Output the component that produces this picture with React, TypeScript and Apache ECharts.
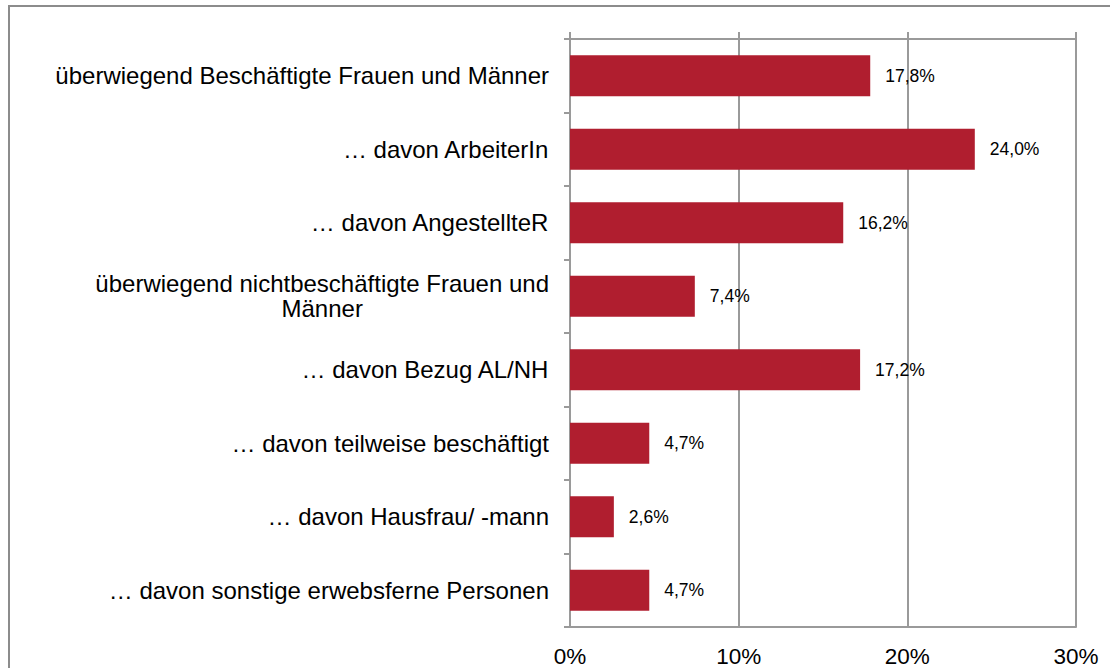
import React, { useEffect, useRef } from "react";
import * as echarts from "echarts";

const categories: string[] = [
  "überwiegend Beschäftigte Frauen und Männer",
  "… davon ArbeiterIn",
  "… davon AngestellteR",
  "überwiegend nichtbeschäftigte Frauen und\nMänner",
  "… davon Bezug AL/NH",
  "… davon teilweise beschäftigt",
  "… davon Hausfrau/ -mann",
  "… davon sonstige erwebsferne Personen",
];
const values: number[] = [17.8, 24.0, 16.2, 7.4, 17.2, 4.7, 2.6, 4.7];
const axisTicks: number[] = [0, 10, 20, 30];

const FONT = "'Liberation Sans', Arial, sans-serif";
const GREY = "#9a9a9a";

export default function App() {
  const ref = useRef<HTMLDivElement>(null);
  useEffect(() => {
    document.body.style.margin = "0";
    if (!ref.current) return;
    const chart = echarts.init(ref.current, undefined, { renderer: "svg" });
    chart.setOption({
      animation: false,
      backgroundColor: "#ffffff",
      textStyle: { fontFamily: FONT },
      graphic: [
        {
          type: "rect",
          shape: { x: 9, y: 6, width: 1300, height: 900 },
          style: { fill: "none", stroke: "#8c8c8c", lineWidth: 2 },
          silent: true,
        },
      ],
      grid: { left: 570, right: 34, top: 39, bottom: 40, containLabel: false },
      xAxis: [
        {
          type: "value",
          position: "bottom",
          min: axisTicks[0],
          max: axisTicks[axisTicks.length - 1],
          interval: 10,
          axisLine: { show: true, lineStyle: { color: GREY, width: 2 } },
          axisTick: { show: false },
          axisLabel: {
            formatter: (v: number) => `${v}%`,
            fontSize: 22.5,
            color: "#000",
            margin: 18,
            fontFamily: FONT,
          },
          splitLine: { show: true, lineStyle: { color: GREY, width: 2 } },
        },
        {
          type: "value",
          position: "top",
          min: axisTicks[0],
          max: axisTicks[axisTicks.length - 1],
          interval: 10,
          axisLine: { show: true, lineStyle: { color: GREY, width: 2 } },
          axisTick: { show: true, length: 7, lineStyle: { color: GREY, width: 2 } },
          axisLabel: { show: false },
          splitLine: { show: false },
        },
      ],
      yAxis: {
        type: "category",
        data: categories,
        inverse: true,
        axisLine: { show: true, lineStyle: { color: GREY, width: 2 } },
        axisTick: { show: true, length: 6, lineStyle: { color: GREY, width: 2 } },
        axisLabel: {
          margin: 21,
          color: "#000",
          fontSize: 24,
          lineHeight: 25,
          fontFamily: FONT,
          formatter: (v: string) =>
            v
              .split("\n")
              .map((l) => `{c|${l}}`)
              .join("\n"),
          rich: {
            c: { align: "center", fontSize: 24, lineHeight: 25, fontFamily: FONT, color: "#000" },
          },
        },
      },
      series: [
        {
          type: "bar",
          data: values,
          xAxisIndex: 0,
          barWidth: 41,
          itemStyle: { color: "#B01E2F" },
          label: {
            show: true,
            position: "right",
            distance: 15,
            fontSize: 17.5,
            color: "#000",
            fontFamily: FONT,
            formatter: (p: any) => `${p.value.toFixed(1).replace(".", ",")}%`,
          },
        },
      ],
    });
    return () => chart.dispose();
  }, []);
  return <div ref={ref} style={{ width: 1110, height: 668 }} />;
}
